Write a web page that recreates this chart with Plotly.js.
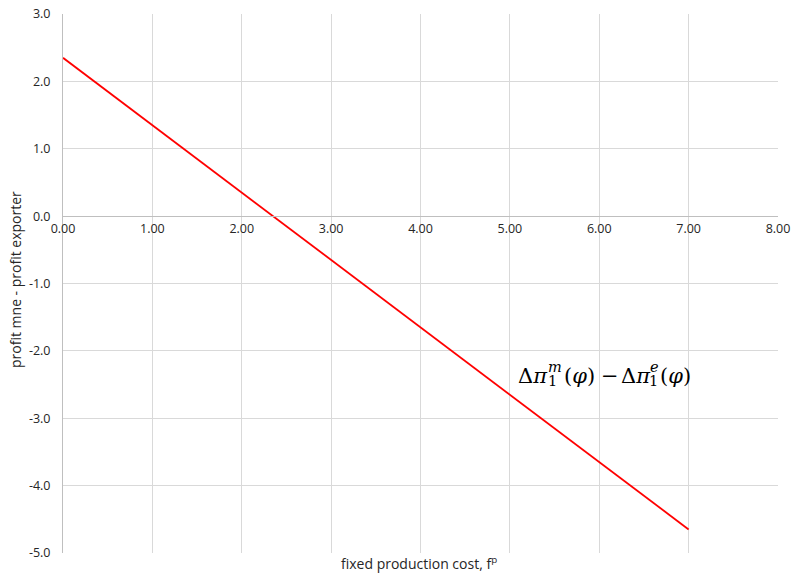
<!DOCTYPE html>
<html>
<head>
<meta charset="utf-8">
<script src="https://cdn.plot.ly/plotly-3.0.1.min.js"></script>
<style>html,body{margin:0;padding:0;background:#fff;}#chart{width:794px;height:575px;}</style>
</head>
<body>
<div id="chart"></div>
<script>
const fixedCost = [0, 1, 2, 3, 4, 5, 6, 7];
const profitDiff = [2.35, 1.35, 0.35, -0.65, -1.65, -2.65, -3.65, -4.65];
const xTickVals = [0, 1, 2, 3, 4, 5, 6, 7, 8];
const xTickText = ["0.00", "1.00", "2.00", "3.00", "4.00", "5.00", "6.00", "7.00", "8.00"];
const yTickVals = [3, 2, 1, 0, -1, -2, -3, -4, -5];
const yTickText = ["3.0", "2.0", "1.0", "0.0", "-1.0", "-2.0", "-3.0", "-4.0", "-5.0"];
const xTitle = 'fixed production cost, f<sup>p</sup>';
const yTitle = 'profit mne - profit exporter';

const trace = {
  x: fixedCost, y: profitDiff, type: 'scatter', mode: 'lines',
  line: {color: '#ff0000', width: 1.8}, hoverinfo: 'none', showlegend: false
};

const M = {l: 63, r: 16, t: 14, b: 22};
const W = 794, H = 575;
const pw = W - M.l - M.r, ph = H - M.t - M.b;
const px = p => (p - M.l) / pw;
const py = p => (H - M.b - p) / ph;

const tickFont = {family: 'Open Sans, sans-serif', size: 12.5, color: '#262626'};
const titleFont = {family: 'Open Sans, sans-serif', size: 14, color: '#262626'};
const mathFam = 'DejaVu Serif, serif';
const mainF = {family: mathFam, size: 21, color: '#000000'};
const scriptF = {family: mathFam, size: 14.5, color: '#000000'};

function piece(text, xl, yc, f) {
  return {xref: 'paper', yref: 'paper', x: px(xl), y: py(yc), xanchor: 'left', yanchor: 'middle',
          text: text, showarrow: false, font: f, borderpad: 0, borderwidth: 0};
}

const layout = {
  width: W, height: H,
  margin: M,
  paper_bgcolor: '#ffffff', plot_bgcolor: '#ffffff',
  font: tickFont,
  showlegend: false,
  xaxis: {
    range: [0, 8], tickvals: xTickVals, ticktext: xTickText,
    showgrid: true, gridcolor: '#d9d9d9', gridwidth: 1,
    zeroline: false, showline: true, linecolor: '#bfbfbf', linewidth: 1,
    anchor: 'free', position: 0.625, ticks: '', ticklabelstandoff: 1,
    tickfont: tickFont, fixedrange: true
  },
  yaxis: {
    range: [-5, 3], tickvals: yTickVals, ticktext: yTickText,
    showgrid: true, gridcolor: '#d9d9d9', gridwidth: 1,
    zeroline: false, showline: true, linecolor: '#bfbfbf', linewidth: 1,
    ticks: '', tickfont: tickFont, ticklabelstandoff: 9,
    fixedrange: true
  },
  annotations: [
    {xref: 'paper', yref: 'paper', x: px(419), y: py(563), xanchor: 'center', yanchor: 'middle',
     text: xTitle, showarrow: false, font: titleFont},
    {xref: 'paper', yref: 'paper', x: px(15), y: py(280), xanchor: 'center', yanchor: 'middle',
     text: yTitle, textangle: -90, showarrow: false, font: titleFont},
    piece('Δ<i>π</i>', 518, 376, mainF),
    piece('1', 548, 381, scriptF),
    piece('<i>m</i>', 548, 367, scriptF),
    piece('(<i>φ</i>)', 564, 376, mainF),
    piece('−', 601, 376, mainF),
    piece('Δ<i>π</i>', 621, 376, mainF),
    piece('1', 649, 381, scriptF),
    piece('<i>e</i>', 650, 367, scriptF),
    piece('(<i>φ</i>)', 660, 376, mainF)
  ]
};

Plotly.newPlot('chart', [trace], layout, {displayModeBar: false, staticPlot: true});
</script>
</body>
</html>
